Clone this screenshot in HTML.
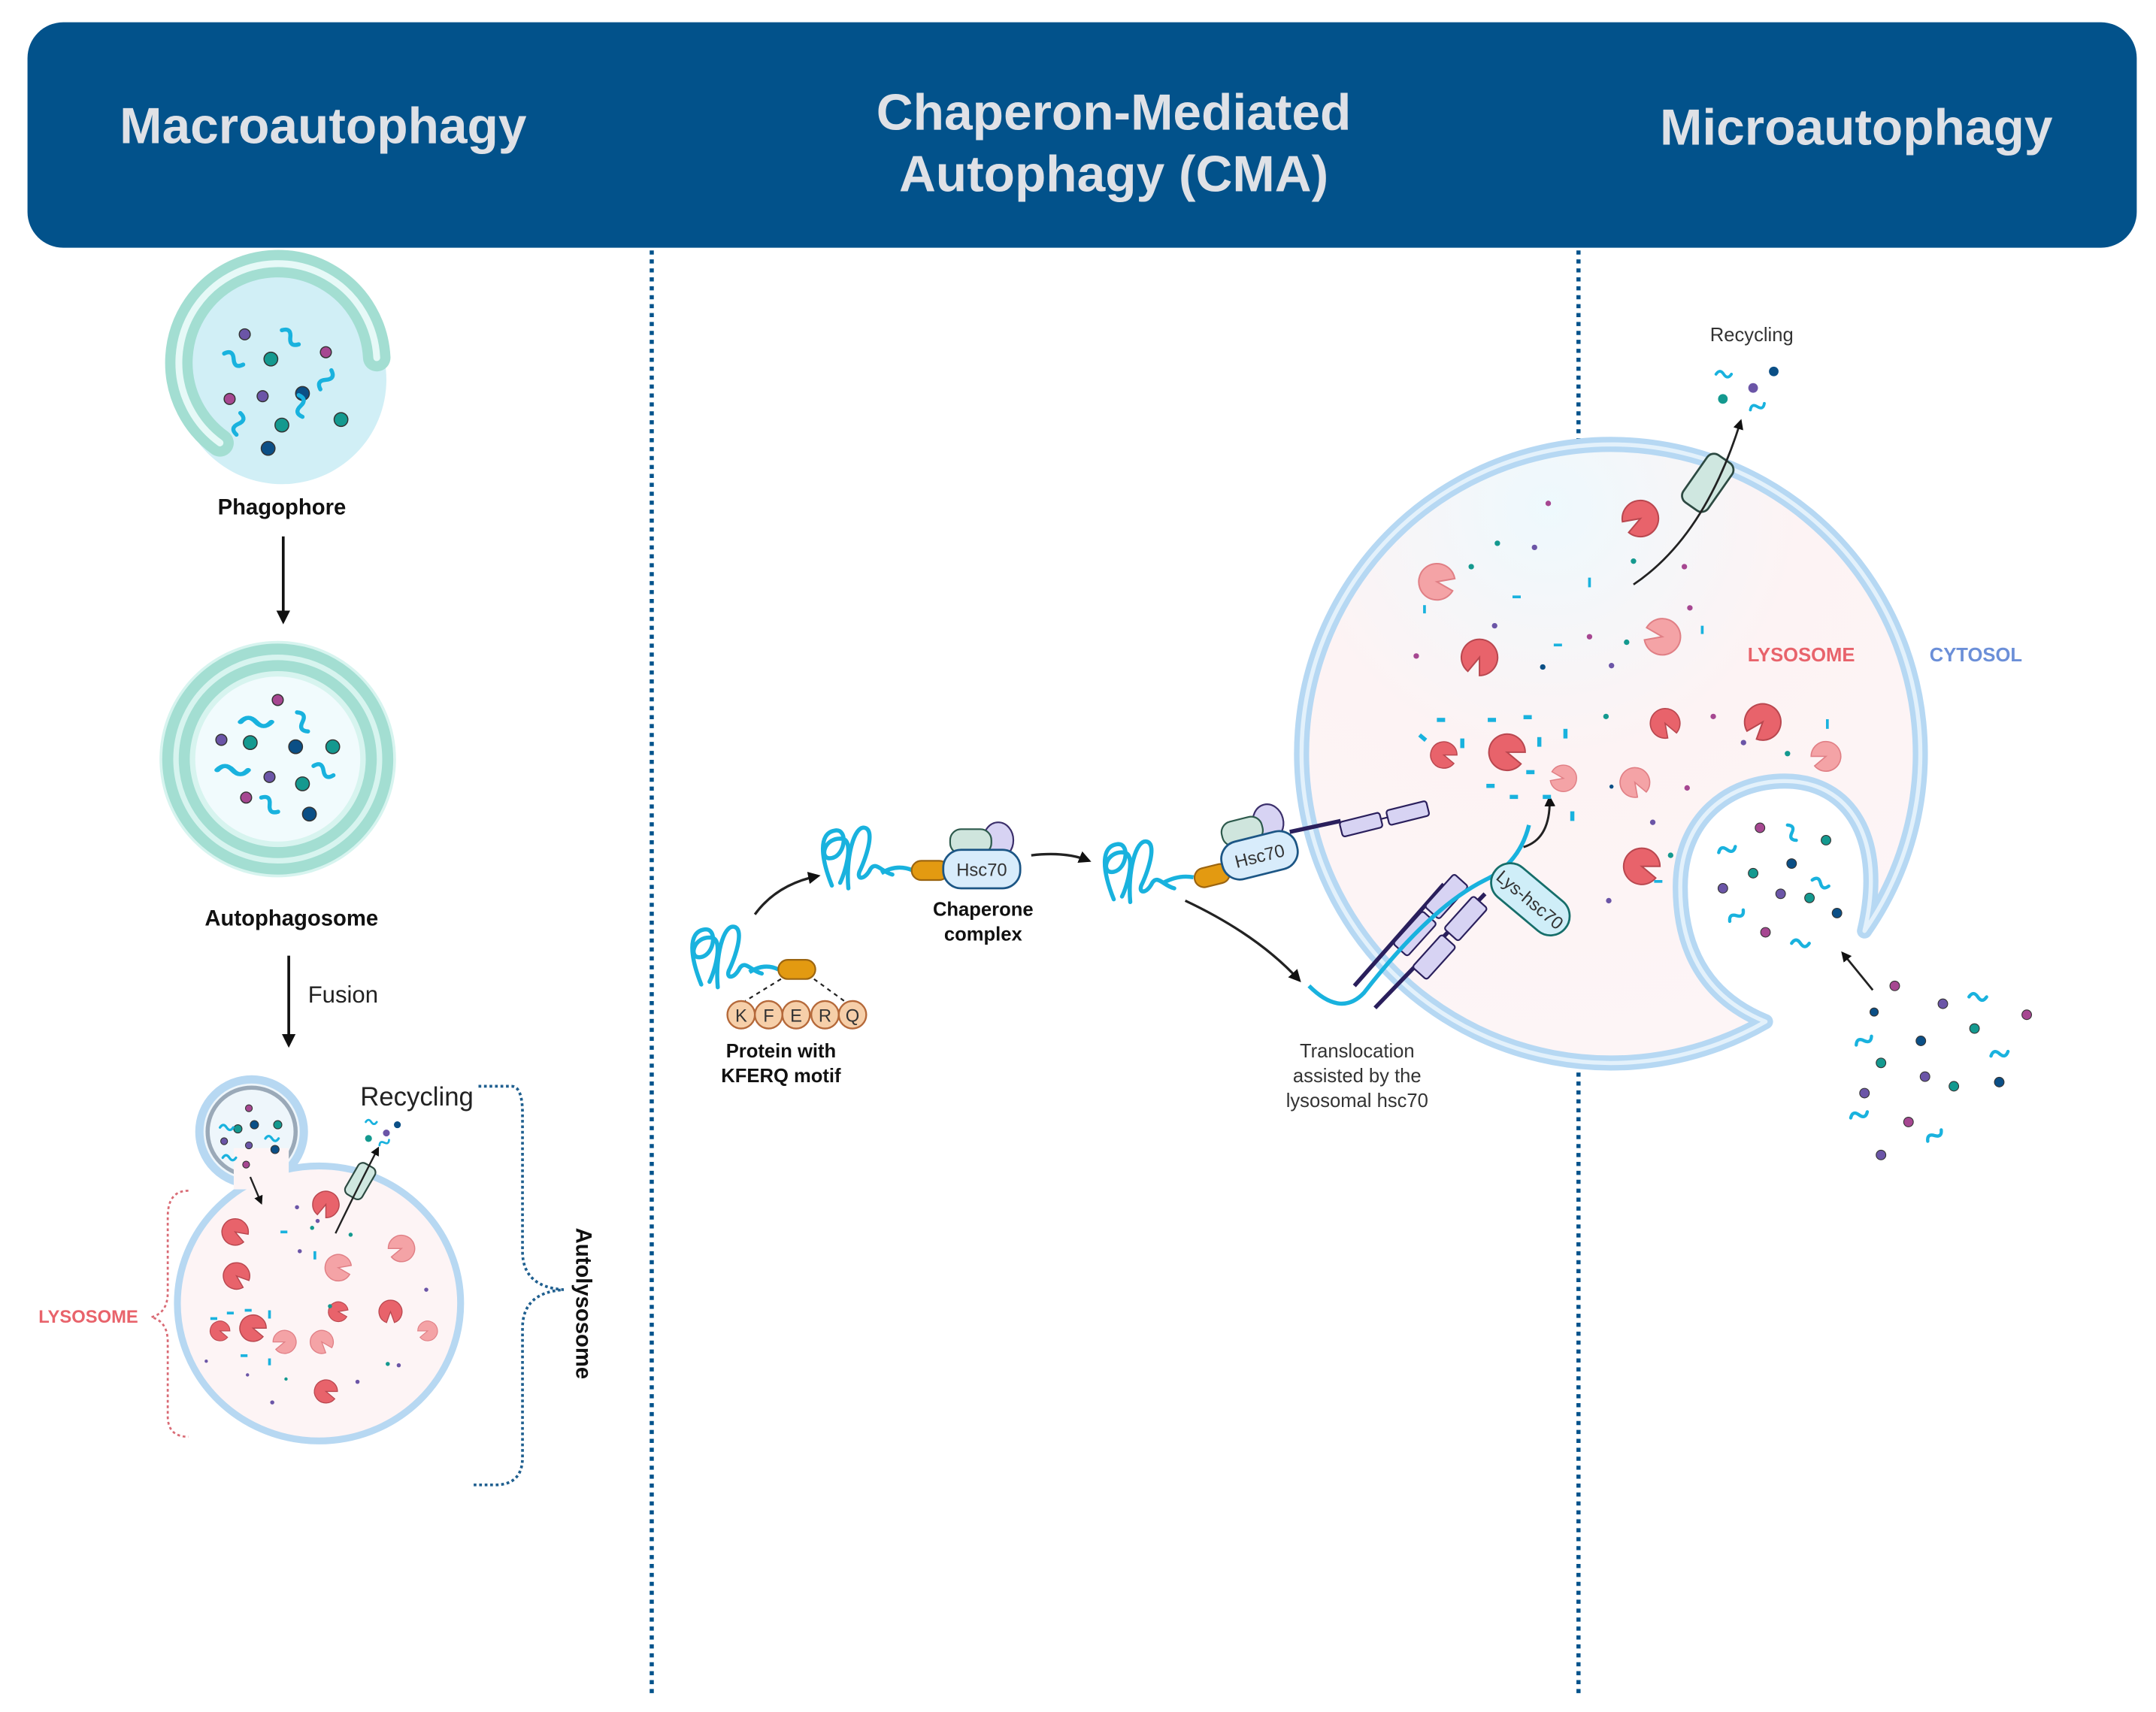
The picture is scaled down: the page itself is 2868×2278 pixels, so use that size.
<!DOCTYPE html>
<html><head><meta charset="utf-8"><style>
html,body{margin:0;padding:0;background:#fff;}
svg{display:block;}
text{font-family:"Liberation Sans",sans-serif;}
</style></head><body>
<svg width="2868" height="2278" viewBox="0 0 1568 1245" xmlns="http://www.w3.org/2000/svg">
<defs>
<marker id="ar" viewBox="0 0 10 10" refX="8" refY="5" markerWidth="5" markerHeight="5" orient="auto"><path d="M0,0 L10,5 L0,10 Z" fill="#111"/></marker>
<g id="pac"><path d="M0,0 L11.3,-4.1 A12,12 0 1,0 11.3,4.1 Z" fill="#e8636b" stroke="#b9474f" stroke-width="1"/></g>
<g id="pacl"><path d="M0,0 L11.3,-4.1 A12,12 0 1,0 11.3,4.1 Z" fill="#f4a3a6" stroke="#e07f85" stroke-width="1"/></g>
<path id="sq" d="M0,0 q4,-6 8,0 t8,0" fill="none" stroke="#19b2de" stroke-width="3" stroke-linecap="round"/>
<g id="prot" fill="none" stroke="#19b2de" stroke-width="3" stroke-linecap="round">
<path d="M2,40 C-6,20 -8,2 4,0 C14,-2 12,18 2,20 C-8,22 -4,4 10,6 C18,8 12,30 8,38"/>
<path d="M14,42 C12,20 18,-4 26,-2 C34,0 26,22 22,30 C20,36 26,36 30,28 C34,22 38,30 46,32"/>
</g>
<radialGradient id="lg" cx="0.4" cy="0.1" r="0.9"><stop offset="0" stop-color="#eef9fd"/><stop offset="0.45" stop-color="#fdf3f4"/><stop offset="1" stop-color="#fdf5f6"/></radialGradient>
</defs>

<!-- header -->
<rect x="20" y="16" width="1534" height="164" rx="26" fill="#02528b"/>
<g fill="#dfe1e6" font-weight="bold" font-size="37" text-anchor="middle">
<text x="235" y="104">Macroautophagy</text>
<text x="810" y="94">Chaperon-Mediated</text>
<text x="810" y="139">Autophagy (CMA)</text>
<text x="1350" y="105">Microautophagy</text>
</g>
<line x1="474" y1="182" x2="474" y2="1232" stroke="#02528b" stroke-width="3" stroke-dasharray="3,3.5"/>
<line x1="1148" y1="182" x2="1148" y2="1232" stroke="#02528b" stroke-width="3" stroke-dasharray="3,3.5"/>

<!-- Phagophore -->
<circle cx="205" cy="276" r="76" fill="#d1eff6"/>
<path d="M160,322 A72,72 0 1,1 274,260" fill="none" stroke="#a3ded2" stroke-width="20" stroke-linecap="round"/>
<path d="M160,322 A72,72 0 1,1 274,260" fill="none" stroke="#e6f9f7" stroke-width="5" stroke-linecap="round"/>
<g stroke-width="0.8" stroke="#333">
<circle cx="178" cy="243" r="4" fill="#6b55a7"/><circle cx="237" cy="256" r="4" fill="#a64791"/><circle cx="197" cy="261" r="5" fill="#14998f"/>
<circle cx="167" cy="290" r="4" fill="#a64791"/><circle cx="191" cy="288" r="4" fill="#6b55a7"/><circle cx="220" cy="286" r="5" fill="#0b4f86"/>
<circle cx="205" cy="309" r="5" fill="#14998f"/><circle cx="248" cy="305" r="5" fill="#14998f"/><circle cx="195" cy="326" r="5" fill="#0b4f86"/>
</g>
<use href="#sq" transform="translate(163,257) rotate(30)"/><use href="#sq" transform="translate(205,240) rotate(40)"/>
<use href="#sq" transform="translate(233,283) rotate(-60)"/><use href="#sq" transform="translate(172,316) rotate(-80)"/><use href="#sq" transform="translate(220,303) rotate(-100)"/>
<text x="205" y="374" font-size="16" font-weight="bold" text-anchor="middle" fill="#111">Phagophore</text>
<line x1="206" y1="390" x2="206" y2="452" stroke="#111" stroke-width="2" marker-end="url(#ar)"/>

<!-- Autophagosome -->
<circle cx="202" cy="552" r="86" fill="#d7f4ef"/>
<circle cx="202" cy="552" r="80" fill="none" stroke="#a3ded2" stroke-width="8"/>
<circle cx="202" cy="552" r="68" fill="none" stroke="#a3ded2" stroke-width="8"/>
<circle cx="202" cy="552" r="60" fill="#f1fbfd"/>
<g stroke-width="0.8" stroke="#333">
<circle cx="202" cy="509" r="4" fill="#a64791"/><circle cx="161" cy="538" r="4" fill="#6b55a7"/><circle cx="182" cy="540" r="5" fill="#14998f"/>
<circle cx="215" cy="543" r="5" fill="#0b4f86"/><circle cx="242" cy="543" r="5" fill="#14998f"/><circle cx="196" cy="565" r="4" fill="#6b55a7"/>
<circle cx="220" cy="570" r="5" fill="#14998f"/><circle cx="179" cy="580" r="4" fill="#a64791"/><circle cx="225" cy="592" r="5" fill="#0b4f86"/>
</g>
<use href="#sq" transform="translate(175,525) scale(1.4,1)"/><use href="#sq" transform="translate(216,518) rotate(60)"/>
<use href="#sq" transform="translate(158,560) scale(1.4,1)"/><use href="#sq" transform="translate(228,557) rotate(25)"/><use href="#sq" transform="translate(190,580) rotate(40)"/>
<text x="212" y="673" font-size="16" font-weight="bold" text-anchor="middle" fill="#111">Autophagosome</text>
<line x1="210" y1="695" x2="210" y2="760" stroke="#111" stroke-width="2" marker-end="url(#ar)"/>
<text x="224" y="729" font-size="17" fill="#222">Fusion</text>

<!-- Autolysosome -->
<circle cx="183" cy="823" r="38" fill="#eef6fb" stroke="#b7d8f2" stroke-width="6"/>
<circle cx="183" cy="823" r="32" fill="none" stroke="#9aa9b8" stroke-width="3"/>
<ellipse cx="232" cy="948" rx="103" ry="100" fill="#fdf4f5" stroke="#b7d8f2" stroke-width="5"/>
<rect x="170" y="835" width="40" height="30" fill="#fdf4f5"/>
<g stroke-width="0.6" stroke="#333">
<circle cx="181" cy="806" r="2.5" fill="#a64791"/><circle cx="173" cy="821" r="3" fill="#14998f"/><circle cx="185" cy="818" r="3" fill="#0b4f86"/>
<circle cx="202" cy="818" r="3" fill="#14998f"/><circle cx="163" cy="830" r="2.5" fill="#6b55a7"/><circle cx="181" cy="833" r="2.5" fill="#6b55a7"/><circle cx="200" cy="836" r="3" fill="#0b4f86"/><circle cx="179" cy="847" r="2.5" fill="#a64791"/>
</g>
<use href="#sq" transform="translate(160,820) scale(0.6)"/><use href="#sq" transform="translate(193,828) scale(0.6)"/><use href="#sq" transform="translate(162,842) scale(0.6)"/>
<use href="#pac" transform="translate(237,876) rotate(110) scale(0.8)"/>
<use href="#pac" transform="translate(171,896) rotate(30) scale(0.8)"/>
<use href="#pac" transform="translate(172,928) rotate(40) scale(0.8)"/>
<use href="#pacl" transform="translate(246,922) rotate(10) scale(0.8)"/>
<use href="#pacl" transform="translate(292,908) rotate(160) scale(0.8)"/>
<use href="#pac" transform="translate(160,968) rotate(20) scale(0.6)"/>
<use href="#pac" transform="translate(184,966) rotate(20) scale(0.8)"/>
<use href="#pacl" transform="translate(207,976) rotate(160) scale(0.7)"/>
<use href="#pacl" transform="translate(234,976) rotate(50) scale(0.7)"/>
<use href="#pac" transform="translate(246,954) rotate(10) scale(0.6)"/>
<use href="#pac" transform="translate(284,954) rotate(90) scale(0.7)"/>
<use href="#pacl" transform="translate(311,968) rotate(160) scale(0.6)"/>
<use href="#pac" transform="translate(237,1012) rotate(20) scale(0.7)"/>
<g fill="#19b2de">
<rect x="153" y="958" width="5" height="2"/><rect x="165" y="954" width="5" height="2"/><rect x="178" y="952" width="5" height="2"/><rect x="195" y="953" width="2" height="6"/><rect x="175" y="985" width="5" height="2"/><rect x="195" y="988" width="2" height="5"/><rect x="228" y="910" width="2" height="6"/><rect x="204" y="895" width="5" height="2"/>
</g>
<g fill="#6b55a7"><circle cx="216" cy="878" r="1.5"/><circle cx="231" cy="888" r="1.5"/><circle cx="310" cy="938" r="1.5"/><circle cx="218" cy="910" r="1.5"/><circle cx="290" cy="993" r="1.5"/><circle cx="260" cy="1005" r="1.5"/><circle cx="198" cy="1020" r="1.5"/><circle cx="180" cy="1000" r="1.2"/><circle cx="150" cy="990" r="1.2"/></g>
<g fill="#14998f"><circle cx="227" cy="893" r="1.5"/><circle cx="255" cy="898" r="1.5"/><circle cx="240" cy="950" r="1.5"/><circle cx="282" cy="992" r="1.5"/><circle cx="208" cy="1003" r="1.2"/></g>
<rect x="255" y="846" width="14" height="26" rx="4" transform="rotate(30 262 859)" fill="#cfe7e0" stroke="#2d4a42" stroke-width="1.2"/>
<path d="M244,897 Q262,860 275,835" fill="none" stroke="#222" stroke-width="1.3" marker-end="url(#ar)"/>
<path d="M182,856 L190,875" stroke="#222" stroke-width="1.3" marker-end="url(#ar)"/>
<text x="262" y="804" font-size="19" fill="#222">Recycling</text>
<use href="#sq" transform="translate(266,816) scale(0.5)"/><circle cx="289" cy="818" r="2.5" fill="#0b4f86"/><circle cx="281" cy="824" r="2.5" fill="#6b55a7"/><circle cx="268" cy="828" r="2.5" fill="#14998f"/><use href="#sq" transform="translate(276,833) rotate(-30) scale(0.5)"/>
<path d="M348,790 H372 Q380,790 380,810 V910 Q380,936 410,938 Q380,940 380,966 V1060 Q380,1080 360,1080 H343" fill="none" stroke="#1f5f8f" stroke-width="2" stroke-dasharray="2,2"/>
<text transform="translate(419,948) rotate(90)" font-size="16" font-weight="bold" text-anchor="middle" fill="#111">Autolysosome</text>
<path d="M137,866 Q122,866 122,885 V940 Q122,955 110,958 Q122,961 122,976 V1030 Q122,1045 137,1045" fill="none" stroke="#d96b75" stroke-width="1.5" stroke-dasharray="2,2"/>
<text x="28" y="962" font-size="13" font-weight="bold" fill="#e8636b">LYSOSOME</text>

<!-- CMA -->
<use href="#prot" transform="translate(508,676)"/>
<path d="M545,707 Q556,700 566,705" fill="none" stroke="#19b2de" stroke-width="3"/>
<rect x="566" y="698" width="27" height="14" rx="7" fill="#e39a11" stroke="#9c6510" stroke-width="1.2"/>
<path d="M568,712 L542,728 M592,712 L614,728" stroke="#222" stroke-width="1.2" stroke-dasharray="3,3"/>
<g fill="#f6cfa9" stroke="#b5693a" stroke-width="1.3">
<circle cx="539" cy="738" r="10"/><circle cx="559" cy="738" r="10"/><circle cx="579" cy="738" r="10"/><circle cx="600" cy="738" r="10"/><circle cx="620" cy="738" r="10"/></g>
<g font-size="13" text-anchor="middle" fill="#333"><text x="539" y="743">K</text><text x="559" y="743">F</text><text x="579" y="743">E</text><text x="600" y="743">R</text><text x="620" y="743">Q</text></g>
<text x="568" y="769" font-size="14" font-weight="bold" text-anchor="middle" fill="#111">Protein with</text>
<text x="568" y="787" font-size="14" font-weight="bold" text-anchor="middle" fill="#111">KFERQ motif</text>
<path d="M549,665 Q565,643 595,637" fill="none" stroke="#222" stroke-width="1.8" marker-end="url(#ar)"/>

<use href="#prot" transform="translate(603,604)"/>
<path d="M641,635 Q652,628 664,633" fill="none" stroke="#19b2de" stroke-width="3"/>
<rect x="663" y="626" width="27" height="14" rx="7" fill="#e39a11" stroke="#9c6510" stroke-width="1.2"/>
<ellipse cx="726" cy="611" rx="11" ry="13" fill="#d7d3f3" stroke="#3b2f6b" stroke-width="1.2"/>
<rect x="691" y="603" width="30" height="18" rx="8" fill="#cfe5dd" stroke="#2d5a4c" stroke-width="1.2"/>
<rect x="686" y="618" width="56" height="28" rx="13" fill="#d8ecfb" stroke="#1c5685" stroke-width="1.5"/>
<text x="714" y="637" font-size="13" text-anchor="middle" fill="#333">Hsc70</text>
<text x="715" y="666" font-size="14" font-weight="bold" text-anchor="middle" fill="#111">Chaperone</text>
<text x="715" y="684" font-size="14" font-weight="bold" text-anchor="middle" fill="#111">complex</text>
<path d="M750,622 Q775,619 792,626" fill="none" stroke="#222" stroke-width="1.8" marker-end="url(#ar)"/>

<!-- lysosome big -->
<path d="M1356,677 A225,225 0 1,0 1284,743 C1240,725 1222,690 1222,645 C1222,595 1258,568 1298,568 C1345,568 1372,610 1356,677 Z" fill="url(#lg)" stroke="#b6d8f3" stroke-width="11" stroke-linejoin="round"/>
<path d="M1356,677 A225,225 0 1,0 1284,743 C1240,725 1222,690 1222,645 C1222,595 1258,568 1298,568 C1345,568 1372,610 1356,677 Z" fill="none" stroke="#e3f1fb" stroke-width="3" stroke-linejoin="round"/>

<use href="#prot" transform="translate(808,614)"/>
<path d="M846,642 Q857,636 868,638" fill="none" stroke="#19b2de" stroke-width="3"/>
<g transform="rotate(-14 916 622)">
<rect x="866" y="621" width="26" height="14" rx="7" fill="#e39a11" stroke="#9c6510" stroke-width="1.2"/>
<ellipse cx="928" cy="600" rx="11" ry="13" fill="#d7d3f3" stroke="#3b2f6b" stroke-width="1.2"/>
<rect x="893" y="593" width="30" height="18" rx="8" fill="#cfe5dd" stroke="#2d5a4c" stroke-width="1.2"/>
<rect x="888" y="608" width="56" height="28" rx="13" fill="#d8ecfb" stroke="#1c5685" stroke-width="1.5"/>
<text x="916" y="627" font-size="13" text-anchor="middle" fill="#333">Hsc70</text>
</g>
<line x1="938" y1="605" x2="975" y2="597" stroke="#2a1f5c" stroke-width="3"/>
<g transform="rotate(-14 1006 590)" fill="#d7d3f3" stroke="#2a1f5c" stroke-width="1.2">
<rect x="973" y="590" width="30" height="11" rx="2"/><rect x="1008" y="590" width="30" height="11" rx="2"/><line x1="1003" y1="595" x2="1008" y2="595"/></g>
<path d="M862,655 Q915,680 945,713" fill="none" stroke="#222" stroke-width="1.8" marker-end="url(#ar)"/>
<!-- translocation complex -->
<g stroke="#2a1f5c" stroke-width="3"><line x1="985" y1="717" x2="1050" y2="643"/><line x1="1000" y1="733" x2="1080" y2="650"/></g>
<g fill="#d7d3f3" stroke="#2a1f5c" stroke-width="1.2">
<rect x="1013" y="672" width="32" height="14" rx="2" transform="rotate(-48 1029 679)"/>
<rect x="1036" y="645" width="32" height="14" rx="2" transform="rotate(-48 1052 652)"/>
<rect x="1027" y="689" width="32" height="14" rx="2" transform="rotate(-48 1043 696)"/>
<rect x="1050" y="661" width="32" height="14" rx="2" transform="rotate(-48 1066 668)"/>
</g>
<path d="M952,717 Q975,740 992,722 Q1040,660 1080,640 Q1105,628 1112,600" fill="none" stroke="#19b2de" stroke-width="3"/>
<path d="M1108,616 Q1128,610 1127,580" fill="none" stroke="#222" stroke-width="1.6" marker-end="url(#ar)"/>
<rect x="1080" y="640" width="66" height="28" rx="14" transform="rotate(40 1113 654)" fill="#cfeef8" stroke="#166e6a" stroke-width="1.5"/>
<text x="1113" y="659" font-size="13" text-anchor="middle" fill="#333" transform="rotate(40 1113 654)">Lys-hsc70</text>
<text x="987" y="769" font-size="14" text-anchor="middle" fill="#333">Translocation</text>
<text x="987" y="787" font-size="14" text-anchor="middle" fill="#333">assisted by the</text>
<text x="987" y="805" font-size="14" text-anchor="middle" fill="#333">lysosomal hsc70</text>

<!-- lysosome contents -->
<use href="#pac" transform="translate(1193,377) rotate(150) scale(1.1)"/>
<use href="#pacl" transform="translate(1045,423) rotate(10) scale(1.1)"/>
<use href="#pac" transform="translate(1076,478) rotate(110) scale(1.1)"/>
<use href="#pacl" transform="translate(1209,463) rotate(190) scale(1.1)"/>
<use href="#pac" transform="translate(1050,549) rotate(20) scale(0.8)"/>
<use href="#pac" transform="translate(1096,547) rotate(20) scale(1.1)"/>
<use href="#pacl" transform="translate(1137,566) rotate(190) scale(0.8)"/>
<use href="#pac" transform="translate(1211,526) rotate(60) scale(0.9)"/>
<use href="#pac" transform="translate(1282,525) rotate(130) scale(1.1)"/>
<use href="#pacl" transform="translate(1328,550) rotate(160) scale(0.9)"/>
<use href="#pacl" transform="translate(1189,569) rotate(60) scale(0.9)"/>
<use href="#pac" transform="translate(1194,630) rotate(20) scale(1.1)"/>
<g fill="#19b2de">
<rect x="1032" y="535" width="6" height="3" transform="rotate(40 1035 536)"/><rect x="1045" y="522" width="6" height="3"/><rect x="1062" y="537" width="3" height="7"/><rect x="1082" y="522" width="6" height="3"/><rect x="1108" y="520" width="6" height="3"/><rect x="1118" y="536" width="3" height="7"/><rect x="1137" y="530" width="3" height="7"/><rect x="1081" y="570" width="6" height="3"/><rect x="1098" y="578" width="6" height="3"/><rect x="1122" y="578" width="6" height="3"/><rect x="1110" y="560" width="6" height="3"/><rect x="1142" y="590" width="3" height="7"/>
<rect x="1100" y="433" width="6" height="2"/><rect x="1155" y="420" width="2" height="7"/><rect x="1130" y="468" width="6" height="2"/><rect x="1035" y="440" width="2" height="6"/><rect x="1237" y="455" width="2" height="6"/><rect x="1203" y="640" width="6" height="2"/><rect x="1328" y="523" width="2" height="7"/>
</g>
<g fill="#a64791"><circle cx="1126" cy="366" r="2"/><circle cx="1030" cy="477" r="2"/><circle cx="1156" cy="463" r="2"/><circle cx="1225" cy="412" r="2"/><circle cx="1229" cy="442" r="2"/><circle cx="1246" cy="521" r="2"/><circle cx="1227" cy="573" r="2"/></g>
<g fill="#6b55a7"><circle cx="1116" cy="398" r="2"/><circle cx="1087" cy="455" r="2"/><circle cx="1172" cy="484" r="2"/><circle cx="1202" cy="598" r="2"/><circle cx="1170" cy="655" r="2"/><circle cx="1268" cy="540" r="2"/></g>
<g fill="#14998f"><circle cx="1089" cy="395" r="2"/><circle cx="1070" cy="412" r="2"/><circle cx="1183" cy="467" r="2"/><circle cx="1188" cy="408" r="2"/><circle cx="1168" cy="521" r="2"/><cirlce/><circle cx="1300" cy="548" r="2"/><circle cx="1215" cy="622" r="2"/></g>
<g fill="#0b4f86"><circle cx="1122" cy="485" r="2"/><circle cx="1172" cy="572" r="1.5"/></g>
<rect x="1231" y="330" width="22" height="42" rx="6" transform="rotate(35 1242 351)" fill="#cfe7e0" stroke="#2d4a42" stroke-width="1.5"/>
<path d="M1188,425 Q1240,390 1266,306" fill="none" stroke="#222" stroke-width="1.5" marker-end="url(#ar)"/>
<text x="1274" y="248" font-size="14" text-anchor="middle" fill="#333">Recycling</text>
<use href="#sq" transform="translate(1248,272) scale(0.7)"/><circle cx="1290" cy="270" r="3.5" fill="#0b4f86"/><circle cx="1275" cy="282" r="3.5" fill="#6b55a7"/><circle cx="1253" cy="290" r="3.5" fill="#14998f"/><use href="#sq" transform="translate(1273,298) rotate(-25) scale(0.7)"/>
<text x="1310" y="481" font-size="14" font-weight="bold" text-anchor="middle" fill="#e8636b">LYSOSOME</text>
<text x="1437" y="481" font-size="14" font-weight="bold" text-anchor="middle" fill="#6b8fd8">CYTOSOL</text>
<!-- pocket contents -->
<g stroke="#333" stroke-width="0.6">
<circle cx="1280" cy="602" r="3.5" fill="#a64791"/><circle cx="1328" cy="611" r="3.5" fill="#14998f"/><circle cx="1303" cy="628" r="3.5" fill="#0b4f86"/><circle cx="1275" cy="635" r="3.5" fill="#14998f"/>
<circle cx="1253" cy="646" r="3.5" fill="#6b55a7"/><circle cx="1295" cy="650" r="3.5" fill="#6b55a7"/><circle cx="1316" cy="653" r="3.5" fill="#14998f"/><circle cx="1336" cy="664" r="3.5" fill="#0b4f86"/><circle cx="1284" cy="678" r="3.5" fill="#a64791"/>
</g>
<use href="#sq" transform="translate(1300,600) rotate(60) scale(0.8)"/><use href="#sq" transform="translate(1250,620) rotate(-20) scale(0.8)"/><use href="#sq" transform="translate(1318,640) rotate(20) scale(0.8)"/><use href="#sq" transform="translate(1258,670) rotate(-40) scale(0.8)"/><use href="#sq" transform="translate(1303,686) scale(0.8)"/>
<path d="M1362,720 L1340,693" stroke="#222" stroke-width="1.5" marker-end="url(#ar)"/>
<g stroke="#333" stroke-width="0.6">
<circle cx="1378" cy="717" r="3.5" fill="#a64791"/><circle cx="1413" cy="730" r="3.5" fill="#6b55a7"/><circle cx="1474" cy="738" r="3.5" fill="#a64791"/><circle cx="1363" cy="736" r="3" fill="#0b4f86"/>
<circle cx="1436" cy="748" r="3.5" fill="#14998f"/><circle cx="1397" cy="757" r="3.5" fill="#0b4f86"/><circle cx="1368" cy="773" r="3.5" fill="#14998f"/><circle cx="1400" cy="783" r="3.5" fill="#6b55a7"/>
<circle cx="1421" cy="790" r="3.5" fill="#14998f"/><circle cx="1454" cy="787" r="3.5" fill="#0b4f86"/><circle cx="1356" cy="795" r="3.5" fill="#6b55a7"/><circle cx="1388" cy="816" r="3.5" fill="#a64791"/><circle cx="1368" cy="840" r="3.5" fill="#6b55a7"/>
</g>
<use href="#sq" transform="translate(1432,725) scale(0.8)"/><use href="#sq" transform="translate(1350,760) rotate(-30) scale(0.8)"/><use href="#sq" transform="translate(1448,768) rotate(-15) scale(0.8)"/><use href="#sq" transform="translate(1346,813) rotate(-20) scale(0.8)"/><use href="#sq" transform="translate(1402,830) rotate(-40) scale(0.8)"/>
</svg>
</body></html>
